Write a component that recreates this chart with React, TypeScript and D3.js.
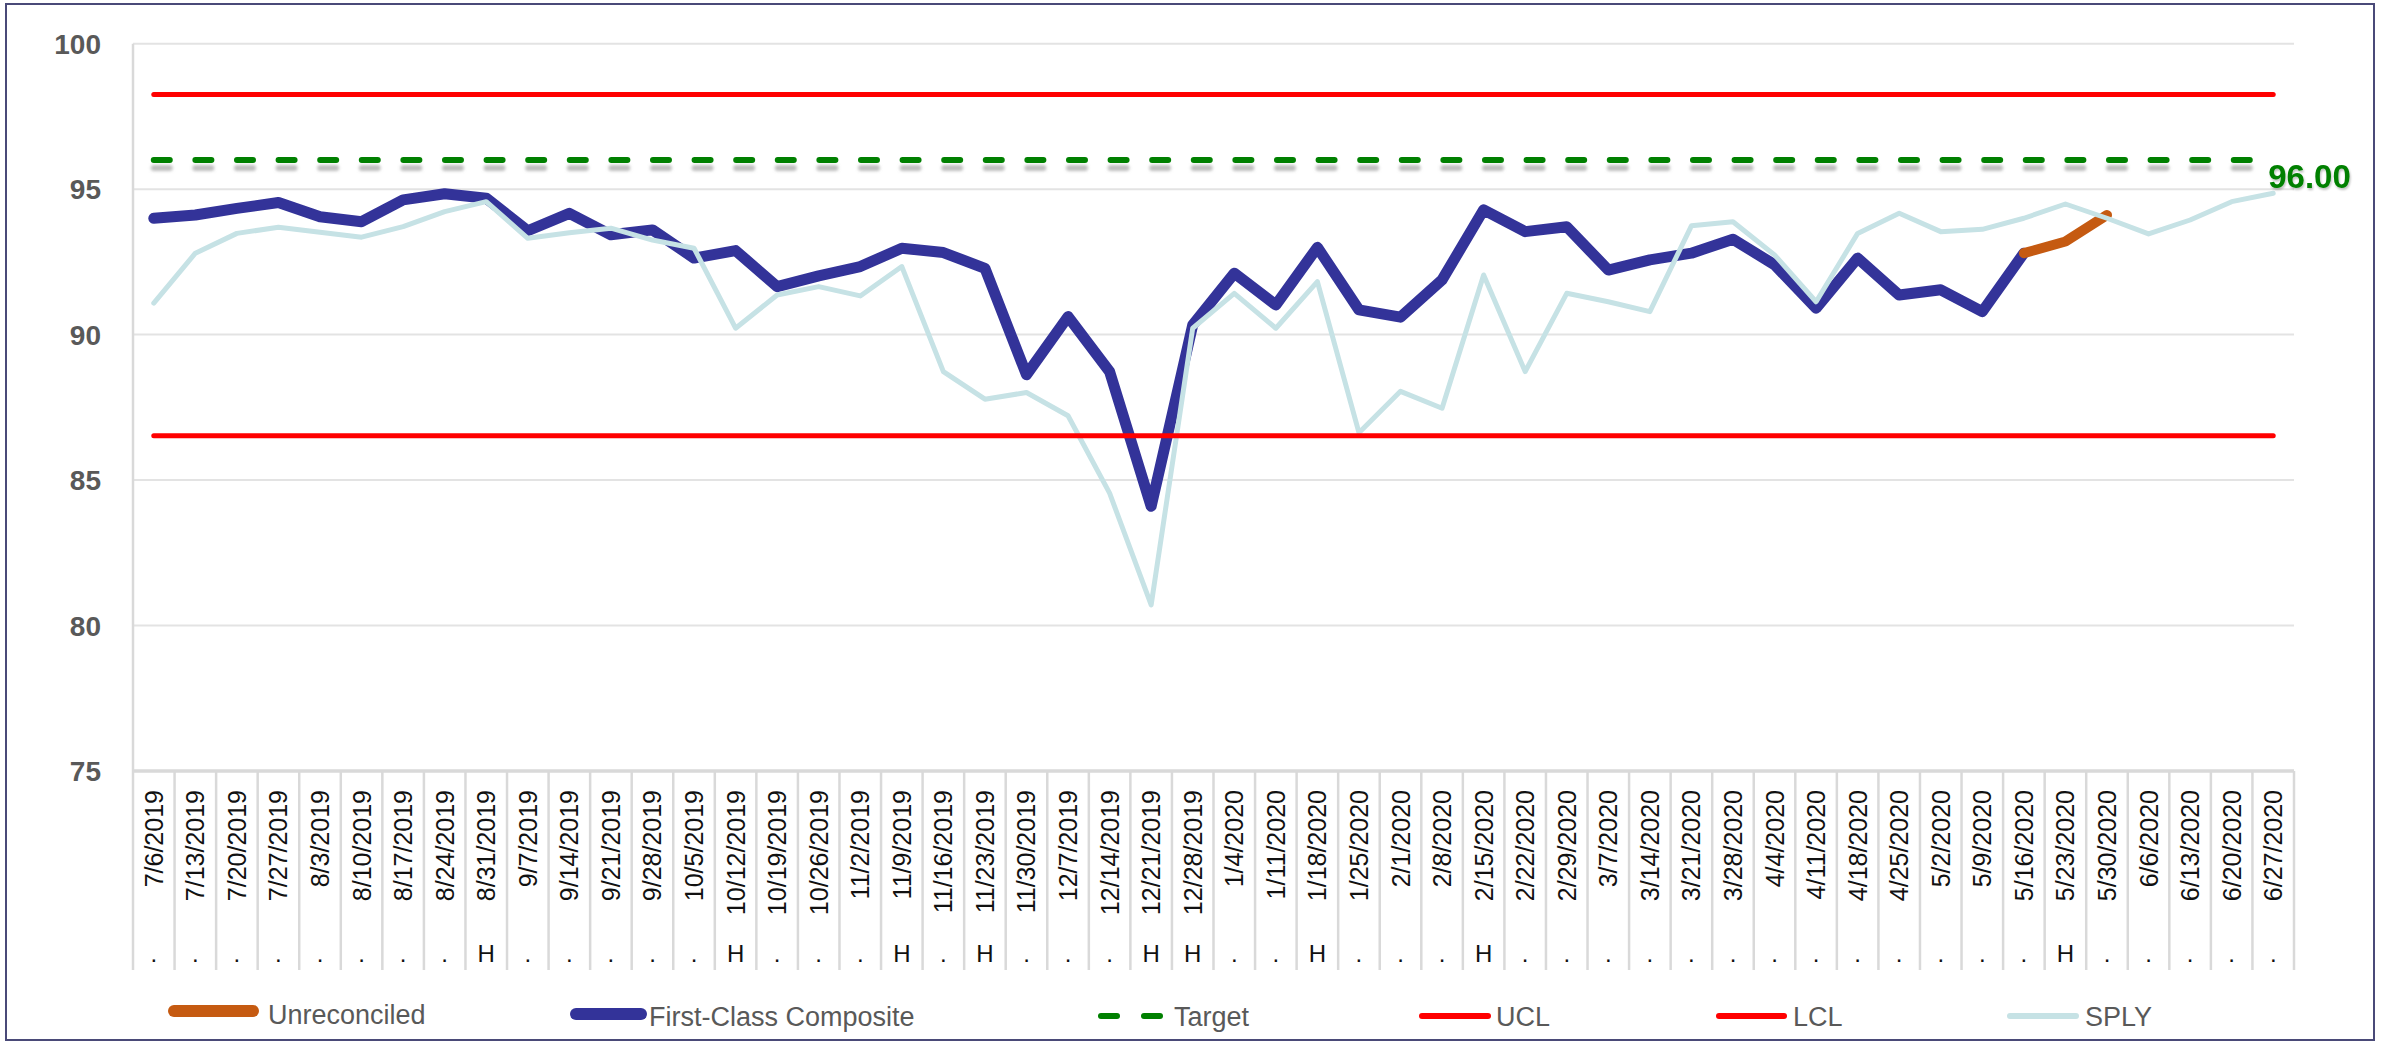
import React from "react";
import * as d3 from "d3";

const weeks = [
  "7/6/2019", "7/13/2019", "7/20/2019", "7/27/2019", "8/3/2019", "8/10/2019", "8/17/2019", "8/24/2019",
  "8/31/2019", "9/7/2019", "9/14/2019", "9/21/2019", "9/28/2019", "10/5/2019", "10/12/2019", "10/19/2019",
  "10/26/2019", "11/2/2019", "11/9/2019", "11/16/2019", "11/23/2019", "11/30/2019", "12/7/2019", "12/14/2019",
  "12/21/2019", "12/28/2019", "1/4/2020", "1/11/2020", "1/18/2020", "1/25/2020", "2/1/2020", "2/8/2020",
  "2/15/2020", "2/22/2020", "2/29/2020", "3/7/2020", "3/14/2020", "3/21/2020", "3/28/2020", "4/4/2020",
  "4/11/2020", "4/18/2020", "4/25/2020", "5/2/2020", "5/9/2020", "5/16/2020", "5/23/2020", "5/30/2020",
  "6/6/2020", "6/13/2020", "6/20/2020", "6/27/2020",
];

const holidayMarks = [
  ".", ".", ".", ".", ".", ".", ".", ".", "H", ".", ".", ".", ".", ".", "H", ".",
  ".", ".", "H", ".", "H", ".", ".", ".", "H", "H", ".", ".", "H", ".", ".", ".",
  "H", ".", ".", ".", ".", ".", ".", ".", ".", ".", ".", ".", ".", ".", "H", ".",
  ".", ".", ".", ".",
];

const firstClassWeeks = weeks.slice(0, 46);
const firstClass = [
  94.0, 94.11, 94.34, 94.54, 94.05, 93.88, 94.63, 94.84, 94.69, 93.57, 94.17, 93.43, 93.6, 92.63, 92.89, 91.65,
  92.02, 92.34, 92.97, 92.82, 92.28, 88.62, 90.62, 88.73, 84.1, 90.33, 92.11, 91.02, 93.0, 90.85, 90.6, 91.88,
  94.29, 93.54, 93.71, 92.22, 92.57, 92.8, 93.28, 92.4, 90.91, 92.63, 91.36, 91.54, 90.79, 92.8,
];

const unreconciledWeeks = ["5/16/2020", "5/23/2020", "5/30/2020"];
const unreconciled = [92.8, 93.2, 94.11];

const sply = [
  91.08, 92.8, 93.48, 93.69, 93.52, 93.35, 93.71, 94.23, 94.57, 93.31, 93.5, 93.66, 93.25, 92.97, 90.22, 91.36,
  91.65, 91.33, 92.34, 88.73, 87.78, 88.01, 87.21, 84.55, 80.71, 90.22, 91.42, 90.22, 91.82, 86.63, 88.05, 87.47,
  92.05, 88.73, 91.42, 91.13, 90.79, 93.74, 93.88, 92.74, 91.13, 93.48, 94.17, 93.54, 93.62, 94.0, 94.49, 94.0,
  93.46, 93.94, 94.57, 94.86,
];

const targetValue = 96;
const uclValue = 98.25;
const lclValue = 86.52;
const targetLabel = "96.00";
const yTicks = [75, 80, 85, 90, 95, 100];
const legendLabels = ["Unreconciled", "First-Class Composite", "Target", "UCL", "LCL", "SPLY"];

const COLORS = {
  navy: "#333399",
  orange: "#c55a11",
  green: "#008000",
  red: "#ff0000",
  sply: "#c6e2e5",
  grid: "#e3e3e3",
  axis: "#d9d9d9",
  text: "#595959",
};

const FONT = "'Liberation Sans', Arial, sans-serif";

export default function App() {
  const W = 2389;
  const H = 1041;
  const left = 133;
  const right = 2294;
  const top = 43.7;
  const bottom = 771;
  const sepBottom = 970;

  const x = d3.scaleBand<string>().domain(weeks).range([left, right]).paddingInner(0).paddingOuter(0);
  const bw = x.bandwidth();
  const cx = (d: string) => (x(d) as number) + bw / 2;
  const y = d3.scaleLinear().domain([75, 100]).range([bottom, top]);

  const lineGen = d3
    .line<[string, number]>()
    .x((d) => cx(d[0]))
    .y((d) => y(d[1]));

  const navyPath = lineGen(firstClassWeeks.map((w, i) => [w, firstClass[i]]) as [string, number][]) || "";
  const orangePath = lineGen(unreconciledWeeks.map((w, i) => [w, unreconciled[i]]) as [string, number][]) || "";
  const splyPath = lineGen(weeks.map((w, i) => [w, sply[i]]) as [string, number][]) || "";

  const x0 = cx(weeks[0]);
  const x1 = cx(weeks[weeks.length - 1]);

  const legendY = 1014;
  const legendTextY = 1024;

  return (
    <svg
      width={W}
      height={H}
      style={{ position: "absolute", left: 0, top: 0, background: "#fff" }}
      fontFamily={FONT}
    >
      <defs>
        <filter id="tshadow" filterUnits="userSpaceOnUse" x={0} y={0} width={W} height={H}>
          <feGaussianBlur in="SourceAlpha" stdDeviation="1.8" result="b" />
          <feOffset in="b" dx="0" dy="8" result="o" />
          <feFlood floodColor="#8a8a8a" floodOpacity="0.55" />
          <feComposite in2="o" operator="in" result="s" />
          <feMerge>
            <feMergeNode in="s" />
            <feMergeNode in="SourceGraphic" />
          </feMerge>
        </filter>
        <filter id="lshadow" filterUnits="userSpaceOnUse" x={0} y={0} width={W} height={H}>
          <feGaussianBlur in="SourceAlpha" stdDeviation="1.2" result="b" />
          <feOffset in="b" dx="1" dy="2" result="o" />
          <feFlood floodColor="#000" floodOpacity="0.25" />
          <feComposite in2="o" operator="in" result="s" />
          <feMerge>
            <feMergeNode in="s" />
            <feMergeNode in="SourceGraphic" />
          </feMerge>
        </filter>
      </defs>

      <rect x={0} y={0} width={W} height={H} fill="#fff" />
      {/* outer border */}
      <rect x={6} y={4} width={2368} height={1036} fill="none" stroke="#4a4a78" strokeWidth={2} />

      {/* horizontal gridlines */}
      {yTicks
        .filter((t) => t !== 75)
        .map((t) => (
          <line key={"g" + t} x1={left} x2={right} y1={y(t)} y2={y(t)} stroke={COLORS.grid} strokeWidth={2} />
        ))}

      {/* y axis line */}
      <line x1={left} x2={left} y1={top} y2={sepBottom} stroke={COLORS.axis} strokeWidth={2.5} />

      {/* category separators */}
      {weeks.map((w) => (
        <line
          key={"s" + w}
          x1={(x(w) as number) + bw}
          x2={(x(w) as number) + bw}
          y1={bottom}
          y2={sepBottom}
          stroke={COLORS.axis}
          strokeWidth={2.5}
        />
      ))}

      {/* x axis line */}
      <line x1={left} x2={right} y1={bottom} y2={bottom} stroke={COLORS.axis} strokeWidth={3.5} />

      {/* y tick labels */}
      {yTicks.map((t) => (
        <text
          key={"yt" + t}
          x={101}
          y={y(t)}
          dy="0.36em"
          textAnchor="end"
          fontSize={28}
          fontWeight="bold"
          fill={COLORS.text}
        >
          {t}
        </text>
      ))}

      {/* x tick labels */}
      {weeks.map((w) => (
        <text
          key={"xt" + w}
          transform={`translate(${cx(w)},790) rotate(-90)`}
          dy="0.36em"
          textAnchor="end"
          fontSize={25}
          fill="#111"
        >
          {w}
        </text>
      ))}

      {/* holiday marks */}
      {weeks.map((w, i) => (
        <text key={"h" + w} x={cx(w)} y={962} textAnchor="middle" fontSize={24} fill="#111">
          {holidayMarks[i]}
        </text>
      ))}

      {/* series */}
      <path d={navyPath} fill="none" stroke={COLORS.navy} strokeWidth={11} strokeLinejoin="round" strokeLinecap="round" />
      <path d={orangePath} fill="none" stroke={COLORS.orange} strokeWidth={10} strokeLinejoin="round" strokeLinecap="round" />
      <path d={splyPath} fill="none" stroke={COLORS.sply} strokeWidth={5} strokeLinejoin="round" strokeLinecap="round" />

      {/* target */}
      <line
        x1={x0}
        x2={x1}
        y1={y(targetValue)}
        y2={y(targetValue)}
        stroke={COLORS.green}
        strokeWidth={6}
        strokeDasharray="16 25.6"
        strokeLinecap="round"
        filter="url(#tshadow)"
      />
      {/* UCL / LCL */}
      <line x1={x0} x2={x1} y1={y(uclValue)} y2={y(uclValue)} stroke={COLORS.red} strokeWidth={5} strokeLinecap="round" />
      <line x1={x0} x2={x1} y1={y(lclValue)} y2={y(lclValue)} stroke={COLORS.red} strokeWidth={5} strokeLinecap="round" />

      <text
        x={x1 - 5}
        y={188}
        fontSize={33}
        fontWeight="bold"
        fill={COLORS.green}
        filter="url(#lshadow)"
      >
        {targetLabel}
      </text>

      {/* legend */}
      <g fontSize={27} fill={COLORS.text}>
        <line x1={174} x2={253} y1={legendY - 3} y2={legendY - 3} stroke={COLORS.orange} strokeWidth={12} strokeLinecap="round" />
        <text x={268} y={legendTextY}>{legendLabels[0]}</text>

        <line x1={576} x2={641} y1={legendY} y2={legendY} stroke={COLORS.navy} strokeWidth={12} strokeLinecap="round" />
        <text x={649} y={legendTextY + 2}>{legendLabels[1]}</text>

        <line x1={1101} x2={1160} y1={legendY + 2} y2={legendY + 2} stroke={COLORS.green} strokeWidth={6} strokeDasharray="16 27" strokeLinecap="round" />
        <text x={1174} y={legendTextY + 2}>{legendLabels[2]}</text>

        <line x1={1422} x2={1488} y1={legendY + 2} y2={legendY + 2} stroke={COLORS.red} strokeWidth={6} strokeLinecap="round" />
        <text x={1496} y={legendTextY + 2}>{legendLabels[3]}</text>

        <line x1={1719} x2={1784} y1={legendY + 2} y2={legendY + 2} stroke={COLORS.red} strokeWidth={6} strokeLinecap="round" />
        <text x={1793} y={legendTextY + 2}>{legendLabels[4]}</text>

        <line x1={2010} x2={2076} y1={legendY + 2} y2={legendY + 2} stroke={COLORS.sply} strokeWidth={6} strokeLinecap="round" />
        <text x={2085} y={legendTextY + 2}>{legendLabels[5]}</text>
      </g>
    </svg>
  );
}
